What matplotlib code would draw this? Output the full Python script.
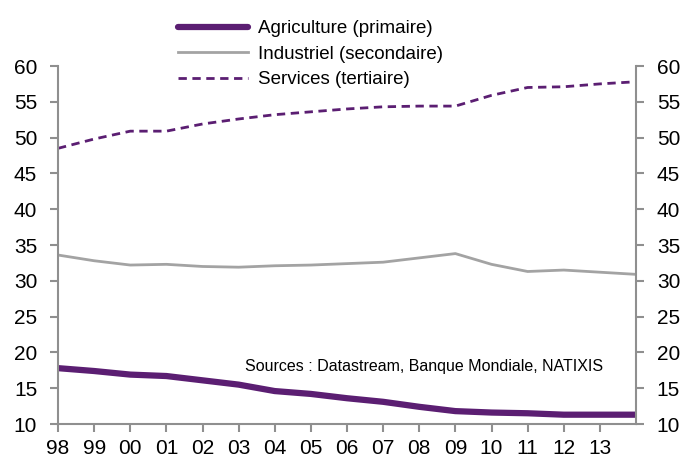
import matplotlib
matplotlib.use("Agg")
import matplotlib.pyplot as plt

plt.rcParams['font.family'] = ['Liberation Sans', 'DejaVu Sans']

tick_labels = ["98", "99", "00", "01", "02", "03", "04", "05", "06", "07",
               "08", "09", "10", "11", "12", "13"]
x_pos = list(range(17))  # yearly points 1998..2014
agriculture = [17.8, 17.4, 16.9, 16.7, 16.1, 15.5, 14.6, 14.2, 13.6, 13.1,
               12.4, 11.8, 11.6, 11.5, 11.3, 11.3, 11.3]
industriel = [33.6, 32.8, 32.2, 32.3, 32.0, 31.9, 32.1, 32.2, 32.4, 32.6,
              33.2, 33.8, 32.3, 31.3, 31.5, 31.2, 30.9]
services = [48.5, 49.8, 50.9, 50.9, 51.9, 52.6, 53.2, 53.6, 54.0, 54.3,
            54.4, 54.4, 55.9, 57.0, 57.1, 57.5, 57.8]

purple = "#5B1E72"
gray = "#A3A3A3"
spine = "#8F8F8F"

fig = plt.figure(figsize=(6.91, 4.61), dpi=100)
ax = fig.add_axes([58/691, 37/461, (636-58)/691, (424-66)/461])

l1, = ax.plot(x_pos, agriculture, color=purple, lw=4.5, solid_capstyle='round',
              label="Agriculture (primaire)")
l2, = ax.plot(x_pos, industriel, color=gray, lw=2, label="Industriel (secondaire)")
l3, = ax.plot(x_pos, services, color=purple, lw=2, ls=(0, (3, 2)),
              label="Services (tertiaire)")

ax.set_xlim(0, 16)
ax.set_ylim(10, 60)
ax.set_yticks(range(10, 61, 5))
ax.set_xticks(range(len(tick_labels)))
ax.set_xticklabels(tick_labels)

for s in ['left', 'right', 'bottom']:
    ax.spines[s].set_color(spine)
    ax.spines[s].set_linewidth(1.5)
ax.spines['top'].set_visible(False)

ax.tick_params(axis='both', direction='out', length=6, width=1.5, color=spine,
               labelsize=15, labelcolor='black')
ax.tick_params(axis='y', which='both', right=True, labelright=True, pad=9)
ax.tick_params(axis='x', pad=5)

ax.text(0.943, 0.162, "Sources : Datastream, Banque Mondiale, NATIXIS",
        transform=ax.transAxes, ha='right', va='center', fontsize=11.5)

fig.legend(handles=[l1, l2, l3], loc='upper left',
           bbox_to_anchor=(178/691, 1 - 20/461), frameon=False, fontsize=13.5,
           handlelength=3.75, handletextpad=0.53, labelspacing=0.45, borderpad=0,
           borderaxespad=0)

fig.savefig("out.png", dpi=100)
